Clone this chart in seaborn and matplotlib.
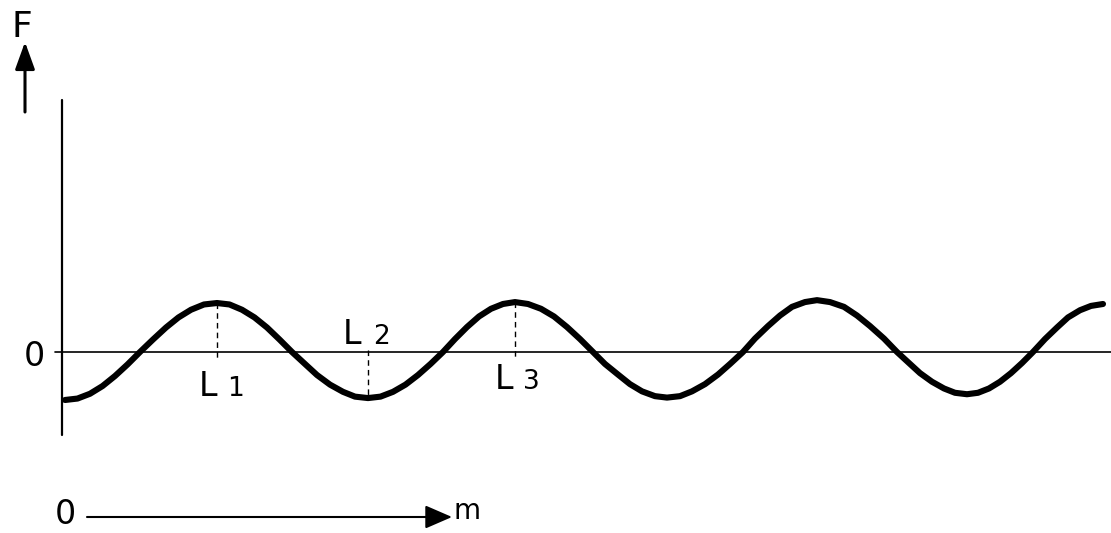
import numpy as np
import pandas as pd
import matplotlib
matplotlib.use("Agg")
import matplotlib.pyplot as plt
import seaborn as sns

# curve: position m (1 unit = 100 px) and force F (1 unit = 48 px)
m_pos = [0.02, 0.145, 0.27, 0.395, 0.52, 0.645, 0.77, 0.90, 1.03, 1.155, 1.28, 1.41,
         1.54, 1.665, 1.79, 1.915, 2.04, 2.165, 2.29, 2.42, 2.54, 2.67, 2.80, 2.92,
         3.05, 3.175, 3.30, 3.425, 3.55, 3.675, 3.80, 3.92, 4.04, 4.16, 4.28, 4.40,
         4.52, 4.65, 4.78, 4.91, 5.04, 5.17, 5.30, 5.42, 5.55, 5.67, 5.79, 5.92,
         6.04, 6.17, 6.29, 6.42, 6.55, 6.67, 6.80, 6.92, 7.05, 7.17, 7.29, 7.42,
         7.54, 7.67, 7.81, 7.94, 8.07, 8.21, 8.34, 8.46, 8.57, 8.69, 8.81, 8.92,
         9.04, 9.15, 9.26, 9.37, 9.48, 9.59, 9.70, 9.82, 9.94, 10.05, 10.17, 10.28,
         10.40]
force = [-1.00, -0.97, -0.87, -0.71, -0.50, -0.26, 0.00, 0.26, 0.51, 0.72, 0.88, 0.99,
         1.02, 0.99, 0.88, 0.72, 0.51, 0.26, 0.00, -0.25, -0.48, -0.68, -0.83, -0.93,
         -0.96, -0.93, -0.83, -0.68, -0.48, -0.25, 0.00, 0.27, 0.52, 0.74, 0.90, 1.00,
         1.04, 1.00, 0.90, 0.74, 0.52, 0.27, 0.00, -0.25, -0.47, -0.67, -0.82, -0.92,
         -0.95, -0.92, -0.82, -0.67, -0.47, -0.25, 0.00, 0.28, 0.54, 0.76, 0.94, 1.04,
         1.08, 1.04, 0.94, 0.76, 0.54, 0.28, 0.00, -0.23, -0.44, -0.62, -0.76, -0.85,
         -0.88, -0.85, -0.76, -0.62, -0.44, -0.23, 0.00, 0.27, 0.51, 0.72, 0.87, 0.96,
         1.00]

# marked positions L1, L2, L3
mark_pos = [1.54, 3.05, 4.52]
mark_digits = ["1", "2", "3"]

df = pd.DataFrame({"m": m_pos, "F": force})

sns.set_style("white")
plt.rcParams["font.family"] = ["DejaVu Sans"]
plt.rcParams["text.color"] = "black"

fig = plt.figure(figsize=(11.11, 5.33), dpi=100)
ax = fig.add_axes([0, 0, 1, 1])
ax.set_xlim(-0.63, 10.48)
ax.set_ylim(-3.771, 7.333)
ax.axis("off")

# axes of the diagram
ax.axhline(0, xmin=55 / 1111, xmax=1, color="black", lw=1.2)
ax.plot([-0.01, -0.01], [5.25, -1.73], color="black", lw=1.6)

sns.lineplot(data=df, x="m", y="F", sort=False, color="black", lw=4.4,
             ax=ax, legend=False)
for ln in ax.get_lines():
    ln.set_solid_joinstyle("round")

# dashed markers at L1, L2, L3
mark_F = np.interp(mark_pos, m_pos, force)
for xp, fv in zip(mark_pos, mark_F):
    if fv > 0:
        y0, y1 = fv, -0.17
    else:
        y0, y1 = 0.05, fv
    ax.plot([xp, xp], [y0, y1], color="black", lw=1.0, dashes=(4, 3))

# labels: (L x, digit x, baseline F)
label_spots = [(1.36, 1.64, -0.92), (2.80, 3.10, 0.17), (4.32, 4.60, -0.77)]
for (lx, dx, by), dg in zip(label_spots, mark_digits):
    ax.text(lx, by, "L", fontsize=24, va="baseline", ha="left")
    ax.text(dx, by, dg, fontsize=19, va="baseline", ha="left")

ax.text(34 / 1111, 1 - 357 / 533, "0", transform=ax.transAxes, fontsize=24,
        ha="center", va="center")

# F arrow at top left
ax.text(22 / 1111, 1 - 37 / 533, "F", transform=ax.transAxes, fontsize=26,
        ha="center", va="baseline")
ax.annotate("", xy=(25 / 1111, 1 - 42 / 533), xytext=(25 / 1111, 1 - 112 / 533),
            xycoords="axes fraction",
            arrowprops=dict(arrowstyle="-|>,head_length=0.83,head_width=0.3",
                            mutation_scale=20, color="black", lw=2.2,
                            shrinkA=0, shrinkB=0))

# m arrow at bottom
ax.text(65 / 1111, 1 - 515 / 533, "0", transform=ax.transAxes, fontsize=24,
        ha="center", va="center")
ax.annotate("", xy=(452 / 1111, 1 - 517 / 533), xytext=(87 / 1111, 1 - 517 / 533),
            xycoords="axes fraction",
            arrowprops=dict(arrowstyle="-|>,head_length=0.83,head_width=0.36",
                            mutation_scale=20, color="black", lw=1.5,
                            shrinkA=0, shrinkB=0))
ax.text(454 / 1111, 1 - 519 / 533, "m", transform=ax.transAxes, fontsize=20,
        ha="left", va="baseline")

fig.savefig("out.png", dpi=100)
